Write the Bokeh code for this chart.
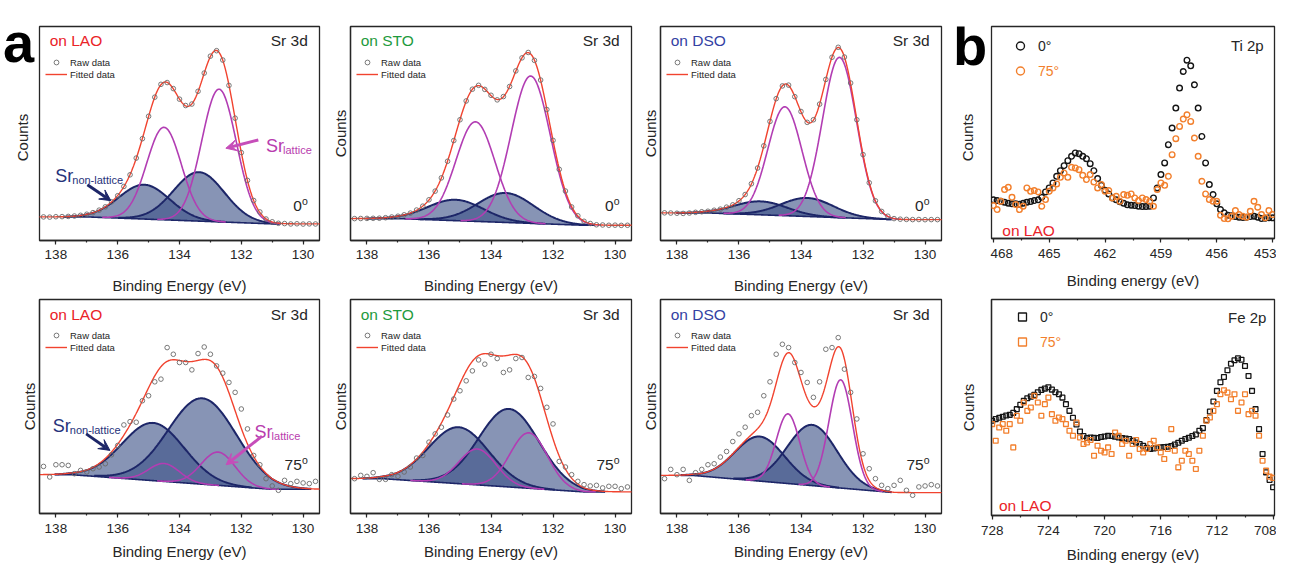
import numpy as np
from bokeh.plotting import figure
from bokeh.layouts import row, column
from bokeh.models import Range1d, Label, Arrow, VeeHead, Legend, LegendItem, FixedTicker
from bokeh.core.properties import value
from bokeh.embed import file_html
from bokeh.resources import INLINE

FONT = "Liberation Sans"
INK = "#262626"
RED = "#f1432f"
MAGENTA = "#b23db3"
NAVY = "#1d2668"
NAVY_FILL = "#3d5288"
RAW_GRAY = "#6a6a6a"
ORANGE = "#f27f2c"

# ---------------- Sr 3d data (panel a) ----------------
sr_energy = np.round(np.arange(138.4, 129.5, -0.2), 1)   # binding energy, eV

raw_LAO_0 = [23.7, 23.5, 23.9, 24.0, 24.2, 24.6, 25.3, 26.4,
             28.0, 30.5, 33.8, 38.9, 45.0, 54.3, 66.0, 82.8, 102.3, 124.8,
             144.0, 156.9, 158.7, 152.6, 142.0, 135.6, 137.1, 149.9, 168.2, 185.2,
             190.7, 181.3, 155.8, 122.9, 88.3, 60.4, 40.2, 28.7, 21.6, 18.8,
             17.3, 17.0, 16.6, 16.8, 16.5, 16.7, 16.6]
raw_STO_0 = [22.0, 22.1, 22.2, 22.3, 22.4, 22.9, 23.6, 24.4,
             25.8, 27.5, 30.6, 34.5, 40.9, 49.6, 62.9, 79.6, 100.4, 121.3,
             140.2, 152.0, 155.9, 151.8, 145.9, 141.3, 144.6, 154.7, 170.4, 183.5,
             188.9, 181.0, 161.2, 131.6, 100.6, 71.5, 49.7, 33.7, 24.8, 19.3,
             17.1, 15.8, 15.6, 15.3, 15.4, 15.2, 15.3]
raw_DSO_0 = [27.8, 27.6, 27.4, 27.2, 27.6, 28.3, 28.9, 29.4,
             30.4, 31.5, 33.5, 35.8, 40.0, 46.2, 57.0, 72.8, 95.1, 119.6,
             142.5, 155.3, 156.1, 144.5, 129.6, 118.7, 121.3, 137.0, 161.8, 184.1,
             194.1, 184.3, 158.2, 121.3, 86.3, 58.0, 39.9, 29.2, 24.4, 22.0,
             21.4, 21.2, 21.0, 21.1, 20.9, 21.0, 21.0]
raw_LAO_75 = [47.3, 36.7, 49.0, 49.0, 48.3, 40.0, 43.3, 41.7,
              45.0, 46.7, 50.0, 59.0, 68.3, 89.0, 92.3, 91.7, 113.3, 118.3,
              132.3, 135.0, 166.7, 160.0, 151.7, 151.7, 144.3, 160.7, 167.3, 160.0,
              148.3, 141.0, 131.7, 121.7, 105.0, 85.0, 58.3, 49.0, 35.0, 27.7,
              23.3, 33.3, 30.0, 32.3, 30.7, 30.0, 32.3]
raw_STO_75 = [35.0, 38.3, 37.3, 41.0, 34.3, 34.3, 39.0, 37.3,
              41.7, 46.7, 55.7, 58.3, 71.7, 80.0, 86.7, 99.0, 115.0, 123.3,
              133.3, 143.3, 154.3, 150.0, 160.0, 155.7, 141.7, 144.3, 155.7, 156.7,
              136.7, 137.7, 125.7, 106.7, 90.0, 52.3, 46.7, 39.0, 32.3, 29.0,
              27.7, 28.3, 25.7, 27.3, 27.3, 25.0, 26.7]
raw_DSO_75 = [35.0, 44.3, 39.0, 44.3, 33.3, 41.0, 44.3, 49.0,
              50.0, 56.7, 62.3, 72.3, 80.0, 86.7, 98.3, 101.7, 118.3, 132.3,
              160.0, 170.0, 166.7, 151.7, 141.7, 131.7, 116.7, 132.3, 165.0, 166.7,
              176.7, 145.0, 121.7, 95.0, 60.0, 45.0, 35.0, 28.3, 25.0, 28.3,
              33.3, 23.3, 18.3, 26.7, 27.7, 29.0, 27.7]

# fitted components, order: Sr lattice 3d5/2, Sr lattice 3d3/2, Sr non-lattice 3d5/2, Sr non-lattice 3d3/2
LAO_0_center = [132.72, 134.50, 133.37, 135.14]
LAO_0_height = [133.3, 92.9, 49.2, 34.5]
LAO_0_sigma = [0.56, 0.56, 0.82, 0.82]
LAO_0_background = [23.7, 16.7]      # high-BE side, low-BE side

STO_0_center = [132.72, 134.50, 133.53, 135.14]
STO_0_height = [148.0, 100.0, 29.6, 21.0]
STO_0_sigma = [0.63, 0.63, 0.90, 0.90]
STO_0_background = [22.0, 15.3]

DSO_0_center = [132.76, 134.52, 133.80, 135.30]
DSO_0_height = [161.0, 109.4, 18.6, 13.5]
DSO_0_sigma = [0.55, 0.55, 0.85, 0.85]
DSO_0_background = [27.7, 21.0]

LAO_75_center = [132.75, 134.50, 133.26, 134.85]
LAO_75_height = [33.4, 18.0, 86.3, 58.0]
LAO_75_sigma = [0.55, 0.50, 1.10, 1.00]
LAO_75_background = [39.0, 24.3]

STO_75_center = [132.78, 134.44, 133.42, 135.04]
STO_75_height = [55.7, 36.0, 78.4, 56.7]
STO_75_sigma = [0.60, 0.60, 0.97, 0.97]
STO_75_background = [35.0, 21.7]

DSO_75_center = [132.72, 134.42, 133.64, 135.33]
DSO_75_height = [108.7, 70.0, 61.0, 44.8]
DSO_75_sigma = [0.38, 0.38, 0.80, 0.80]
DSO_75_background = [38.3, 21.0]

bg_edges_0 = [131.0, 137.0]
bg_edges_75 = [131.0, 137.5]

# ---------------- Ti 2p / Fe 2p data (panel b) ----------------
ti_energy = np.round(np.arange(468.0, 452.9, -0.2), 1)
ti_0deg = [38.7, 38.0, 37.3, 36.3, 35.3, 34.7, 34.7, 34.3, 35.3, 36.3,
           37.0, 38.0, 38.7, 41.3, 46.7, 50.7, 55.7, 62.3, 68.0, 73.0,
           78.0, 82.3, 85.7, 85.0, 82.3, 80.0, 75.0, 68.0, 60.0, 53.3,
           48.3, 44.7, 40.7, 38.7, 36.7, 35.3, 33.7, 33.3, 33.0, 32.3,
           32.0, 32.0, 32.3, 40.7, 50.7, 64.0, 75.7, 94.0, 110.7, 130.7,
           150.7, 167.3, 178.7, 173.0, 154.0, 130.7, 102.3, 75.7, 54.0, 44.0,
           34.7, 29.0, 25.7, 23.3, 22.7, 22.0, 21.3, 21.0, 21.3, 22.0,
           22.3, 21.3, 20.0, 20.3, 20.7, 20.7]
ti_75deg = [33.0, 29.0, 37.3, 49.0, 51.3, 41.3, 34.0, 29.0, 32.3, 50.7,
            47.3, 48.0, 46.7, 32.3, 39.0, 47.3, 50.7, 54.7, 61.3, 65.7,
            61.3, 71.3, 70.7, 69.0, 63.3, 59.0, 64.0, 56.7, 50.7, 54.0,
            47.3, 48.0, 40.7, 42.3, 37.3, 44.0, 43.3, 44.7, 40.7, 38.0,
            40.7, 39.0, 37.3, 32.3, 49.0, 55.7, 53.3, 62.3, 84.0, 100.0,
            112.3, 119.7, 124.0, 117.3, 100.7, 82.3, 57.3, 44.7, 39.0, 37.3,
            37.3, 23.3, 20.0, 19.7, 22.3, 28.0, 24.0, 22.3, 21.3, 27.3,
            37.3, 31.3, 24.0, 20.7, 28.0, 24.0]

fe_energy = np.arange(728.0, 707.9, -0.25)
fe_0deg = [95.0, 96.7, 98.0, 99.0, 100.3, 101.0, 103.0, 106.7, 111.0, 115.0,
           117.7, 119.3, 121.0, 123.7, 126.0, 127.3, 128.7, 126.3, 123.7, 121.7,
           118.3, 111.7, 105.0, 98.0, 91.3, 84.3, 79.7, 77.7, 78.3, 78.0,
           77.7, 78.7, 79.3, 80.0, 79.7, 79.0, 78.3, 77.7, 77.3, 76.7,
           75.0, 73.3, 71.7, 70.0, 68.0, 66.7, 67.3, 67.7, 68.3, 68.7,
           69.0, 69.7, 71.3, 73.0, 75.0, 76.7, 78.0, 79.7, 81.3, 85.0,
           87.7, 95.7, 104.3, 114.3, 125.0, 133.7, 139.0, 145.7, 152.3, 155.7,
           157.7, 156.3, 150.0, 140.0, 125.0, 106.7, 86.7, 61.7, 43.3, 35.7,
           28.3]
fe_75deg = [91.7, 75.0, 88.3, 91.7, 85.0, 91.7, 68.3, 100.0, 95.0, 113.3,
            105.0, 108.3, 120.0, 113.3, 100.0, 111.7, 118.3, 101.7, 95.0, 98.3,
            96.7, 91.7, 85.0, 80.0, 93.3, 78.3, 71.7, 73.3, 75.7, 60.0,
            70.0, 65.0, 63.3, 68.3, 61.7, 83.3, 80.0, 71.7, 75.0, 60.0,
            71.7, 75.7, 66.7, 63.3, 66.7, 71.7, 75.0, 68.3, 63.3, 56.7,
            66.7, 86.7, 65.0, 48.3, 55.0, 65.0, 61.7, 55.0, 46.7, 65.0,
            80.0, 95.0, 98.3, 105.0, 111.7, 121.7, 125.7, 123.3, 116.7, 121.7,
            105.0, 113.3, 121.7, 101.7, 105.0, 100.0, 80.0, 55.0, 45.0, 39.0,
            37.7]

sr_ticks = [130, 132, 134, 136, 138]
sr_minor = [130, 131, 132, 133, 134, 135, 136, 137, 138]
ti_ticks = [453, 456, 459, 462, 465, 468]
ti_minor = [453, 454.5, 456, 457.5, 459, 460.5, 462, 463.5, 465, 466.5, 468]
fe_ticks = [708, 712, 716, 720, 724, 728]
fe_minor = [708, 710, 712, 714, 716, 718, 720, 722, 724, 726, 728]

for arr in (raw_LAO_0, raw_STO_0, raw_DSO_0, raw_LAO_75, raw_STO_75, raw_DSO_75):
    assert len(arr) == len(sr_energy), len(arr)
assert len(ti_0deg) == len(ti_energy) == len(ti_75deg)
assert len(fe_0deg) == len(fe_energy) == len(fe_75deg)

# ---------------- layout geometry ----------------
ROW1_H = 290
COLS_TOP = [(1, 280, 5), (26, 281, 5), (24, 281, 5), (1, 283, 2)]   # left border, frame, right border
COLS_BOT = [(39, 280, 5), (26, 281, 5), (24, 281, 5), (45, 283, 2)]
ROWS_A = [(26, 214, 50), (3, 214, 44)]                              # top border, frame, bottom border
ROW_B_TOP = (22, 212, 56)
ROW_B_BOT = (1, 216, 44)
XAX_A = [(5, 15), (6, 7)]          # (tick-label standoff, axis-label standoff) per row
XAX_B = [(6, 11), (6, 8)]


def hide_title(p):
    if p.title is not None:
        p.title.visible = False
        p.title.text = ""


def base_fig(col, rowgeo, xr, yr):
    lb, fw, rb = col
    tb, fh, bb = rowgeo
    p = figure(frame_width=fw, frame_height=fh, min_border_left=lb, min_border_right=rb,
               min_border_top=tb, min_border_bottom=bb, x_range=Range1d(*xr), y_range=Range1d(*yr),
               output_backend="svg", toolbar_location=None)
    hide_title(p)
    p.grid.visible = False
    p.outline_line_color = INK
    p.outline_line_width = 1.3
    p.outline_line_alpha = 1.0
    p.background_fill_color = "white"
    p.border_fill_color = "white"
    return p


def side_fig(width, height):
    f = figure(frame_width=width, frame_height=height, min_border_left=0, min_border_right=0,
               min_border_top=0, min_border_bottom=0, x_range=Range1d(0, width),
               y_range=Range1d(0, height), x_axis_type=None, y_axis_type=None,
               output_backend="svg", toolbar_location=None)
    hide_title(f)
    f.outline_line_color = None
    f.grid.visible = False
    f.background_fill_color = "white"
    f.border_fill_color = "white"
    return f


def style_axes(p, ticks, minor, xlabel, lab_so, ax_so, yl_standoff, ylabel=True):
    xa = p.xaxis[0]
    xa.ticker = FixedTicker(ticks=ticks, minor_ticks=minor)
    xa.axis_label = xlabel
    xa.axis_label_text_font = FONT
    xa.axis_label_text_font_style = "normal"
    xa.axis_label_text_font_size = "15px"
    xa.axis_label_text_color = INK
    xa.axis_label_standoff = ax_so
    xa.major_label_text_font = FONT
    xa.major_label_text_font_size = "13.5px"
    xa.major_label_text_color = INK
    xa.major_label_standoff = lab_so
    xa.major_tick_out = 4
    xa.major_tick_in = 0
    xa.minor_tick_out = 2
    xa.minor_tick_in = 0
    xa.axis_line_color = INK
    xa.axis_line_width = 1.3
    xa.major_tick_line_color = INK
    xa.minor_tick_line_color = INK
    xa.major_tick_line_width = 1.2
    xa.minor_tick_line_width = 1.2
    ya = p.yaxis[0]
    if not ylabel:
        ya.visible = False
        return
    ya.ticker = FixedTicker(ticks=[])
    ya.axis_label = "Counts"
    ya.axis_label_text_font = FONT
    ya.axis_label_text_font_style = "normal"
    ya.axis_label_text_font_size = "15px"
    ya.axis_label_text_color = INK
    ya.axis_label_standoff = yl_standoff
    ya.major_tick_out = 0
    ya.major_tick_in = 0
    ya.minor_tick_out = 0
    ya.minor_tick_in = 0
    ya.major_label_standoff = 0
    ya.axis_line_color = INK
    ya.axis_line_width = 1.3


def text(p, x, y, s, size, color=INK, align="left", baseline="middle", style="normal", xo=0, yo=0):
    p.add_layout(Label(x=x, y=y, text=s, text_font=FONT, text_font_size=f"{size}px",
                       text_color=color, text_align=align, text_baseline=baseline,
                       text_font_style=style, x_offset=xo, y_offset=yo))


def glyph_text(f, x, y, s, size, style="normal", angle=0.0, color=INK):
    f.text(x=[x], y=[y], text=[s], text_font=value(FONT), text_font_size=f"{size}px",
           text_font_style=style, text_color=color, text_align="center",
           text_baseline="middle", angle=angle)


def arrow(p, x0, y0, x1, y1, color):
    p.add_layout(Arrow(end=VeeHead(size=11, fill_color=color, line_color=color, line_width=1),
                       x_start=x0, y_start=y0, x_end=x1, y_end=y1,
                       line_color=color, line_width=3))


def sr_label(p, x, y, sub, color):
    text(p, x, y, "Sr", 18, color=color, baseline="alphabetic")
    text(p, x, y, sub, 11, color=color, baseline="alphabetic", xo=17, yo=-4)


def sr_panel(ci, ri, substrate, sub_color, raw, center, height, sigma, background, bg_edges, angle):
    col = COLS_TOP[ci] if ri == 0 else COLS_BOT[ci]
    p = base_fig(col, ROWS_A[ri], (138.53, 129.47), (0, 215))
    style_axes(p, sr_ticks, sr_minor, "Binding Energy (eV)", XAX_A[ri][0], XAX_A[ri][1], 2,
               ylabel=not (ri == 0 and ci == 0))
    E = np.linspace(138.6, 129.4, 461)
    bgv = np.interp(E, bg_edges, [background[1], background[0]])
    comps = [h * np.exp(-0.5 * ((E - c) / s) ** 2) for c, h, s in zip(center, height, sigma)]
    total = bgv + sum(comps)
    lo = min(center[2] - 3.2 * sigma[2], center[3] - 3.2 * sigma[3])
    hi = max(center[2] + 3.2 * sigma[2], center[3] + 3.2 * sigma[3])
    for k in (2, 3):
        m = np.abs(E - center[k]) <= 3.2 * sigma[k]
        p.varea(x=E[m], y1=bgv[m], y2=(bgv + comps[k])[m], fill_color=NAVY_FILL, fill_alpha=0.62)
    mu = (E >= lo) & (E <= hi)
    p.line(E[mu], bgv[mu], line_color=NAVY, line_width=1.6)
    for k in (2, 3):
        m = np.abs(E - center[k]) <= 3.2 * sigma[k]
        p.line(E[m], (bgv + comps[k])[m], line_color=NAVY, line_width=2.0)
    for k in (0, 1):
        m = np.abs(E - center[k]) <= 3.6 * sigma[k]
        p.line(E[m], (bgv + comps[k])[m], line_color=MAGENTA, line_width=1.6)
    r_fit = p.line(E, total, line_color=RED, line_width=1.4)
    r_raw = p.scatter(sr_energy, raw, marker="circle", size=4.6, line_color=RAW_GRAY,
                      fill_alpha=0, line_width=0.9)
    leg = Legend(items=[LegendItem(label="Raw data", renderers=[r_raw]),
                        LegendItem(label="Fitted data", renderers=[r_fit])],
                 location=(6, 160), label_text_font=FONT, label_text_font_size="9.5px",
                 label_text_color=INK, glyph_width=22, glyph_height=12, label_height=12,
                 label_standoff=3, spacing=0, padding=0, margin=0,
                 border_line_alpha=0, background_fill_alpha=0)
    p.add_layout(leg)
    ty = 201 if ri == 0 else 200
    text(p, 138.2, ty, substrate, 15.5, color=sub_color)
    text(p, 129.85, ty, "Sr 3d", 15.5, align="right")
    ay = 35 if ri == 0 else 48.5
    text(p, 129.85, ay, "o", 10.5, align="right", yo=5)
    text(p, 129.85, ay, angle, 15.5, align="right", xo=-6)
    return p


p1 = sr_panel(0, 0, "on LAO", "#ea2228", raw_LAO_0, LAO_0_center, LAO_0_height, LAO_0_sigma,
              LAO_0_background, bg_edges_0, "0")
p2 = sr_panel(1, 0, "on STO", "#1e9a3c", raw_STO_0, STO_0_center, STO_0_height, STO_0_sigma,
              STO_0_background, bg_edges_0, "0")
p3 = sr_panel(2, 0, "on DSO", "#3442a3", raw_DSO_0, DSO_0_center, DSO_0_height, DSO_0_sigma,
              DSO_0_background, bg_edges_0, "0")
p5 = sr_panel(0, 1, "on LAO", "#ea2228", raw_LAO_75, LAO_75_center, LAO_75_height, LAO_75_sigma,
              LAO_75_background, bg_edges_75, "75")
p6 = sr_panel(1, 1, "on STO", "#1e9a3c", raw_STO_75, STO_75_center, STO_75_height, STO_75_sigma,
              STO_75_background, bg_edges_75, "75")
p7 = sr_panel(2, 1, "on DSO", "#3442a3", raw_DSO_75, DSO_75_center, DSO_75_height, DSO_75_sigma,
              DSO_75_background, bg_edges_75, "75")

SR_NAVY_TXT = "#26327a"
SR_MAG_TXT = "#b83cae"
ARROW_MAG = "#c64db9"
sr_label(p1, 138.02, 64.3, "non-lattice", SR_NAVY_TXT)
arrow(p1, 136.98, 56, 136.22, 40, NAVY)
sr_label(p1, 131.2, 95.3, "lattice", SR_MAG_TXT)
arrow(p1, 131.45, 101, 132.5, 92.7, ARROW_MAG)
sr_label(p5, 138.1, 87.7, "non-lattice", SR_NAVY_TXT)
arrow(p5, 137.02, 80, 136.25, 63.4, NAVY)
sr_label(p5, 131.57, 81.7, "lattice", SR_MAG_TXT)
arrow(p5, 131.33, 77.7, 132.49, 49, ARROW_MAG)

# left strip of panel a (panel letter + y label of the first plot)
sa = side_fig(38, ROW1_H)
glyph_text(sa, 18, 274, "a", 56, style="bold", color="black")
glyph_text(sa, 22, 179, "Counts", 15, angle=np.pi / 2)

# ---------------- panel b ----------------
p4 = base_fig(COLS_TOP[3], ROW_B_TOP, (468.1, 452.9), (0, 212.4))
style_axes(p4, ti_ticks, ti_minor, "Binding energy (eV)", XAX_B[0][0], XAX_B[0][1], 15, ylabel=False)
r_ti0 = p4.scatter(ti_energy, ti_0deg, marker="circle", size=5.6, line_color="#151515",
                   fill_alpha=0, line_width=1.4)
r_ti75 = p4.scatter(ti_energy, ti_75deg, marker="circle", size=5.6, line_color=ORANGE,
                    fill_alpha=0, line_width=1.4)
for item, lab, loc, col in ((r_ti0, "0\u00b0", (19, 180), INK), (r_ti75, "75\u00b0", (19, 155), ORANGE)):
    p4.add_layout(Legend(items=[LegendItem(label=lab, renderers=[item])],
                         location=loc, label_text_font=FONT, label_text_font_size="14px",
                         label_text_color=col, glyph_width=20, glyph_height=25, label_height=25,
                         label_standoff=8, spacing=0, padding=0, margin=0,
                         border_line_alpha=0, background_fill_alpha=0))
text(p4, 453.48, 193.7, "Ti 2p", 15, align="right")
text(p4, 467.52, 7.7, "on LAO", 15.5, color="#ea2228")

sb = side_fig(44, ROW1_H)
glyph_text(sb, 23.5, 271, "b", 56, style="bold", color="black")
glyph_text(sb, 21, 179, "Counts", 15, angle=np.pi / 2)

p8 = base_fig(COLS_BOT[3], ROW_B_BOT, (728.05, 707.9), (0, 216.7))
style_axes(p8, fe_ticks, fe_minor, "Binding energy (eV)", XAX_B[1][0], XAX_B[1][1], 15)
r_fe0 = p8.scatter(fe_energy, fe_0deg, marker="square", size=4.8, line_color="#151515",
                   fill_alpha=0, line_width=1.3)
r_fe75 = p8.scatter(fe_energy, fe_75deg, marker="square", size=4.8, line_color=ORANGE,
                    fill_alpha=0, line_width=1.3)
for item, lab, loc, col in ((r_fe0, "0\u00b0", (21, 186), INK), (r_fe75, "75\u00b0", (21, 161), ORANGE)):
    p8.add_layout(Legend(items=[LegendItem(label=lab, renderers=[item])],
                         location=loc, label_text_font=FONT, label_text_font_size="14px",
                         label_text_color=col, glyph_width=20, glyph_height=25, label_height=25,
                         label_standoff=8, spacing=0, padding=0, margin=0,
                         border_line_alpha=0, background_fill_alpha=0))
text(p8, 708.48, 198.4, "Fe 2p", 15, align="right")
text(p8, 727.52, 10, "on LAO", 15.5, color="#ea2228")

layout = column(row(sa, p1, p2, p3, sb, p4), row(p5, p6, p7, p8))
open("out.html", "w").write(file_html(layout, INLINE, "XPS spectra"))
